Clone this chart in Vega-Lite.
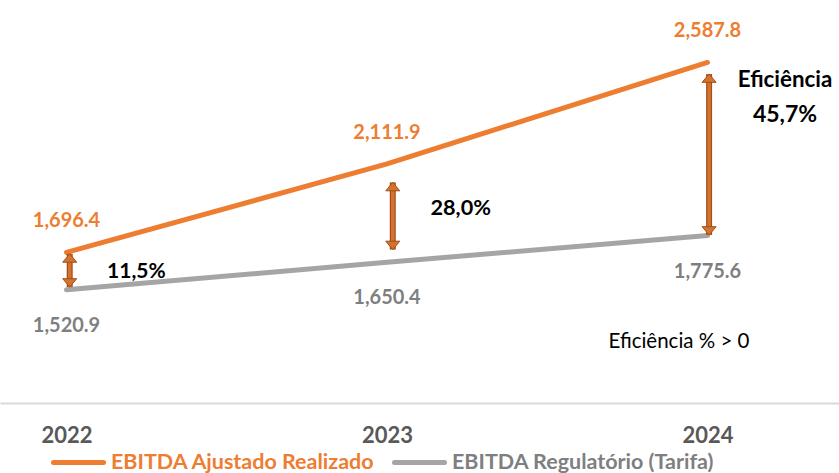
{
  "$schema": "https://vega.github.io/schema/vega-lite/v6.json",
  "width": 839,
  "height": 403,
  "autosize": {"type": "none"},
  "padding": {"left": 0, "top": 0, "right": 0, "bottom": 70},
  "background": "white",
  "config": {"view": {"stroke": null}, "font": "Lato"},
  "datasets": {
    "series": [
      {"year": 2022, "series": "EBITDA Ajustado Realizado", "value": 1696.4},
      {"year": 2023, "series": "EBITDA Ajustado Realizado", "value": 2111.9},
      {"year": 2024, "series": "EBITDA Ajustado Realizado", "value": 2587.8},
      {"year": 2022, "series": "EBITDA Regulatório  (Tarifa)", "value": 1520.9},
      {"year": 2023, "series": "EBITDA Regulatório  (Tarifa)", "value": 1650.4},
      {"year": 2024, "series": "EBITDA Regulatório  (Tarifa)", "value": 1775.6}
    ],
    "arrows": [
      {"x": 2022.01, "top": 1690, "bottom": 1534},
      {"x": 2023.018, "top": 2025, "bottom": 1710},
      {"x": 2024.005, "top": 2534, "bottom": 1778}
    ],
    "notes": [
      {"x": 2022.218, "y": 1605, "text": "11,5%"},
      {"x": 2023.23, "y": 1905, "text": "28,0%"},
      {"x": 2024.242, "y": 2506, "text": "Eficiência"},
      {"x": 2024.242, "y": 2343, "text": "45,7%"}
    ],
    "plain": [
      {"x": 2023.911, "y": 1274, "text": "Eficiência % > 0"}
    ]
  },
  "layer": [
    {
      "data": {"name": "series"},
      "mark": {"type": "line", "strokeWidth": 5, "strokeCap": "round"},
      "encoding": {
        "x": {
          "field": "year", "type": "quantitative",
          "scale": {"domain": [2021.7925, 2024.4103], "nice": false, "zero": false},
          "axis": {
            "values": [2022, 2023, 2024], "format": "d", "title": null,
            "grid": false, "ticks": false,
            "domainColor": "#D9D9D9", "domainWidth": 2,
            "labelFontSize": 22, "labelFontWeight": "bold", "labelColor": "#595959",
            "labelPadding": 22, "labelFont": "Lato"
          }
        },
        "y": {
          "field": "value", "type": "quantitative",
          "scale": {"domain": [990, 2881], "nice": false, "zero": false},
          "axis": null
        },
        "color": {
          "field": "series", "type": "nominal",
          "scale": {"domain": ["EBITDA Ajustado Realizado", "EBITDA Regulatório  (Tarifa)"], "range": ["#ED7D31", "#A5A5A5"]},
          "legend": {
            "orient": "none", "legendX": 51, "legendY": 435,
            "direction": "horizontal", "title": null, "padding": 0,
            "symbolType": "stroke", "symbolSize": 2500, "symbolStrokeWidth": 5,
            "labelFont": "Lato", "labelFontSize": 21.5, "labelFontWeight": "bold",
            "labelOffset": 5, "columnPadding": 8, "labelLimit": 400,
            "encode": {
              "labels": {"update": {"fill": {"signal": "indexof(datum.value, 'Ajustado') >= 0 ? '#ED7D31' : '#7F7F7F'"}}},
              "symbols": {"update": {"strokeCap": {"value": "round"}}}
            }
          }
        }
      }
    },
    {
      "data": {"name": "series"},
      "transform": [{"filter": "indexof(datum.series, 'Ajustado') >= 0"}],
      "mark": {"type": "text", "dy": -31, "fontSize": 20, "fontWeight": "bold", "color": "#ED7D31", "font": "Lato"},
      "encoding": {
        "x": {"field": "year", "type": "quantitative"},
        "y": {"field": "value", "type": "quantitative"},
        "text": {"field": "value", "type": "quantitative", "format": ",.1f"}
      }
    },
    {
      "data": {"name": "series"},
      "transform": [{"filter": "indexof(datum.series, 'Ajustado') < 0"}],
      "mark": {"type": "text", "dy": 36, "fontSize": 20, "fontWeight": "bold", "color": "#7F7F7F", "font": "Lato"},
      "encoding": {
        "x": {"field": "year", "type": "quantitative"},
        "y": {"field": "value", "type": "quantitative"},
        "text": {"field": "value", "type": "quantitative", "format": ",.1f"}
      }
    },
    {
      "data": {"name": "arrows"},
      "mark": {"type": "rule", "strokeWidth": 6, "color": "#A0501A"},
      "encoding": {
        "x": {"field": "x", "type": "quantitative"},
        "y": {"field": "top", "type": "quantitative"},
        "y2": {"field": "bottom"}
      }
    },
    {
      "data": {"name": "arrows"},
      "mark": {"type": "rule", "strokeWidth": 3.5, "color": "#D4722E"},
      "encoding": {
        "x": {"field": "x", "type": "quantitative"},
        "y": {"field": "top", "type": "quantitative"},
        "y2": {"field": "bottom"}
      }
    },
    {
      "data": {"name": "arrows"},
      "mark": {"type": "point", "shape": "M0,0L1,1.2L-1,1.2Z", "filled": true, "size": 196, "fill": "#D4722E", "stroke": "#A0501A", "strokeWidth": 1, "opacity": 1},
      "encoding": {
        "x": {"field": "x", "type": "quantitative"},
        "y": {"field": "top", "type": "quantitative"}
      }
    },
    {
      "data": {"name": "arrows"},
      "mark": {"type": "point", "shape": "M0,0L1,-1.2L-1,-1.2Z", "filled": true, "size": 196, "fill": "#D4722E", "stroke": "#A0501A", "strokeWidth": 1, "opacity": 1},
      "encoding": {
        "x": {"field": "x", "type": "quantitative"},
        "y": {"field": "bottom", "type": "quantitative"}
      }
    },
    {
      "data": {"name": "notes"},
      "mark": {"type": "text", "fontWeight": "bold", "color": "#000000", "font": "Lato"},
      "encoding": {
        "x": {"field": "x", "type": "quantitative"},
        "y": {"field": "y", "type": "quantitative"},
        "text": {"field": "text"},
        "size": {
          "field": "text", "type": "nominal",
          "scale": {"domain": ["11,5%", "28,0%", "Eficiência", "45,7%"], "range": [21, 23, 22, 25]},
          "legend": null
        }
      }
    },
    {
      "data": {"name": "plain"},
      "mark": {"type": "text", "fontSize": 20.5, "color": "#000000", "font": "Lato"},
      "encoding": {
        "x": {"field": "x", "type": "quantitative"},
        "y": {"field": "y", "type": "quantitative"},
        "text": {"field": "text"}
      }
    }
  ]
}
